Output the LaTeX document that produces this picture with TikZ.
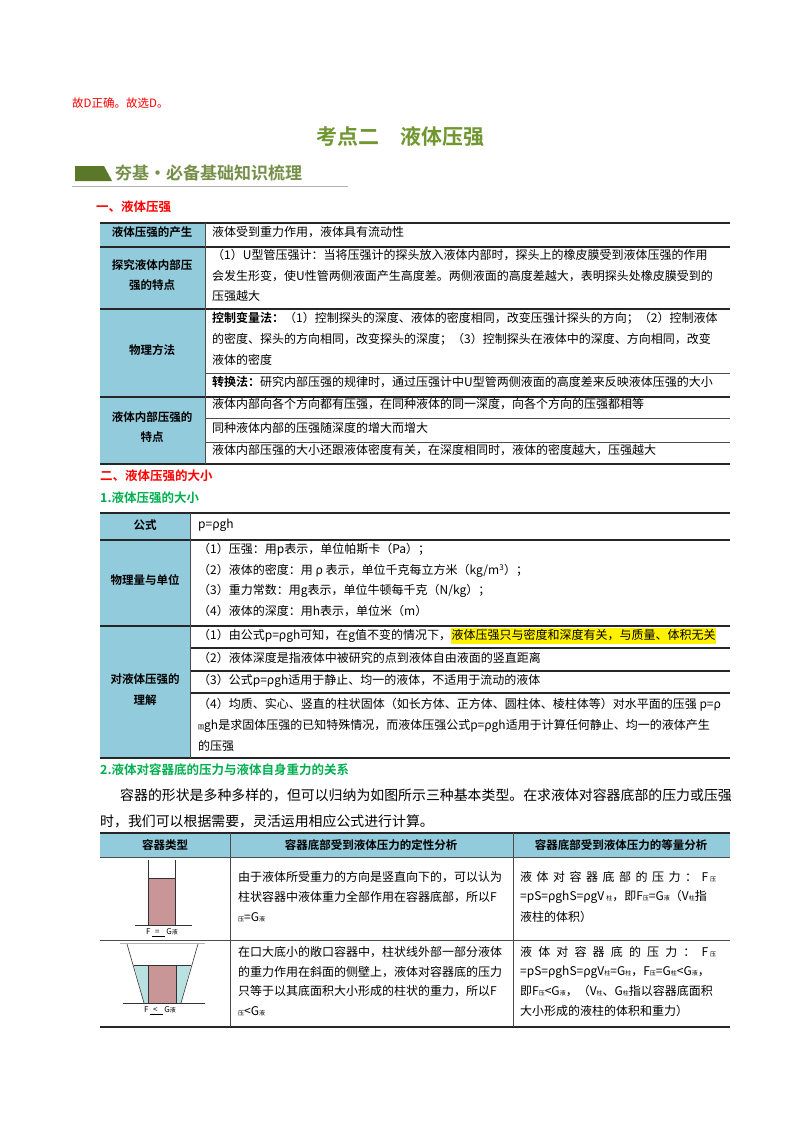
\documentclass[tikz,border=0pt]{standalone}
\usepackage{fontspec}
\setmainfont{Noto Sans CJK SC}
\newfontfamily\cjkb{Noto Sans CJK SC Bold}
\begin{document}
\begin{tikzpicture}[x=1pt,y=-1pt,
  tx/.style={anchor=west,inner sep=0pt,font=\fontsize{12}{13}\selectfont},
  lb/.style={anchor=center,inner sep=0pt,font=\fontsize{11.5}{12}\selectfont\cjkb},
  hd/.style={anchor=west,inner sep=0pt,font=\fontsize{12.5}{14}\selectfont\cjkb},
  thick line/.style={line width=1.3pt,black!85},
  thin line/.style={line width=0.5pt,black!70}]
\definecolor{cellblue}{RGB}{146,203,220}
\definecolor{tgreen}{RGB}{112,150,48}
\definecolor{sgreen}{RGB}{0,176,80}
\definecolor{pink}{RGB}{200,150,150}
\definecolor{lblue}{RGB}{185,225,225}
\newcommand{\lsub}[1]{{\fontsize{6}{6}\selectfont #1}}
\newcommand{\spr}[1]{\makebox[196pt][s]{#1}}
\useasboundingbox (0,0) rectangle (800,1132);
\fill[white] (0,0) rectangle (800,1132);
% header
\node[anchor=west,inner sep=0pt,text=red,font=\fontsize{11.5}{12}\selectfont] (t0) at (72,103) {故D正确。故选D。};
\node[inner sep=0pt,text=tgreen,font=\fontsize{21}{24}\selectfont\cjkb] (title) at (400,137) {考点二\quad 液体压强};
\fill[tgreen!80!black] (75,166) -- (104,166) -- (112,181) -- (75,181) -- cycle;
\node[anchor=west,inner sep=0pt,text=tgreen!70!gray,font=\fontsize{17}{19}\selectfont\cjkb] (banner) at (115,173) {夯基·必备基础知识梳理};
\draw[gray!60,line width=0.8pt] (72,186) -- (348,186);
\node[hd,text=red] (h1) at (96,207) {一、液体压强};
% ---------- table 1 ----------
\fill[cellblue] (100,223) rectangle (205,464);
\draw[thick line] (100,223) -- (730,223);
\draw[thick line] (100,247) -- (730,247);
\draw[thick line] (100,309) -- (730,309);
\draw[thin line] (205,373) -- (730,373);
\draw[thick line] (100,397) -- (730,397);
\draw[thin line] (205,418) -- (730,418);
\draw[thin line] (205,442) -- (730,442);
\draw[thick line] (100,464) -- (730,464);
\draw[thin line] (205,223) -- (205,464);
\node[lb] (a1) at (152,232) {液体压强的产生};
\node[lb] (a2) at (152,265) {探究液体内部压};
\node[lb] (a3) at (152,285) {强的特点};
\node[lb] (a4) at (152,350) {物理方法};
\node[lb] (a5) at (152,417) {液体内部压强的};
\node[lb] (a6) at (152,437) {特点};
\node[tx] (b1) at (212,232) {液体受到重力作用，液体具有流动性};
\node[tx] (b2) at (212,255) {（1）U型管压强计：当将压强计的探头放入液体内部时，探头上的橡皮膜受到液体压强的作用};
\node[tx] (b3) at (212,276) {会发生形变，使U性管两侧液面产生高度差。两侧液面的高度差越大，表明探头处橡皮膜受到的};
\node[tx] (b4) at (212,296) {压强越大};
\node[tx] (b5) at (212,318) {{\cjkb 控制变量法：}（1）控制探头的深度、液体的密度相同，改变压强计探头的方向；（2）控制液体};
\node[tx] (b6) at (212,339) {的密度、探头的方向相同，改变探头的深度；（3）控制探头在液体中的深度、方向相同，改变};
\node[tx] (b7) at (212,360) {液体的密度};
\node[tx] (b8) at (212,382) {{\cjkb 转换法：}研究内部压强的规律时，通过压强计中U型管两侧液面的高度差来反映液体压强的大小};
\node[tx] (b9) at (212,404) {液体内部向各个方向都有压强，在同种液体的同一深度，向各个方向的压强都相等};
\node[tx] (b10) at (212,428) {同种液体内部的压强随深度的增大而增大};
\node[tx] (b11) at (212,450) {液体内部压强的大小还跟液体密度有关，在深度相同时，液体的密度越大，压强越大};
% ---------- section 2 ----------
\node[hd,text=red] (h2) at (100,476) {二、液体压强的大小};
\node[hd,text=sgreen] (h3) at (100,498) {1.液体压强的大小};
\fill[cellblue] (100,513) rectangle (190,758);
\draw[thick line] (100,513) -- (730,513);
\draw[thick line] (100,540) -- (730,540);
\draw[thick line] (100,626) -- (730,626);
\draw[thick line] (190,648) -- (730,648);
\draw[thick line] (190,671) -- (730,671);
\draw[thick line] (190,693) -- (730,693);
\draw[thick line] (100,758) -- (730,758);
\draw[thin line] (190,513) -- (190,758);
\node[lb] (c1) at (145,525) {公式};
\node[lb] (c2) at (145,580) {物理量与单位};
\node[lb] (c3) at (145,679) {对液体压强的};
\node[lb] (c4) at (145,700) {理解};
\node[tx] (d1) at (198,525) {p=ρgh};
\node[tx] (d2) at (198,550) {（1）压强：用p表示，单位帕斯卡（Pa）；};
\node[tx] (d3) at (198,571) {（2）液体的密度：用 ρ 表示，单位千克每立方米（kg/m\textsuperscript{3}）；};
\node[tx] (d4) at (198,591) {（3）重力常数：用g表示，单位牛顿每千克（N/kg）；};
\node[tx] (d5) at (198,611) {（4）液体的深度：用h表示，单位米（m）};
\node[tx] (d6) at (198,636) {（1）由公式p=ρgh可知，在g值不变的情况下，\setlength{\fboxsep}{0.5pt}\colorbox{yellow}{\strut 液体压强只与密度和深度有关，与质量、体积无关}};
\node[tx] (d7) at (198,658) {（2）液体深度是指液体中被研究的点到液体自由液面的竖直距离};
\node[tx] (d8) at (198,681) {（3）公式p=ρgh适用于静止、均一的液体，不适用于流动的液体};
\node[tx] (d9) at (198,705) {（4）均质、实心、竖直的柱状固体（如长方体、正方体、圆柱体、棱柱体等）对水平面的压强 p=ρ};
\node[tx] (d10) at (198,726) {\lsub{固}gh是求固体压强的已知特殊情况，而液体压强公式p=ρgh适用于计算任何静止、均一的液体产生};
\node[tx] (d11) at (198,746) {的压强};
% ---------- section 2.2 ----------
\node[hd,text=sgreen] (h4) at (100,770) {2.液体对容器底的压力与液体自身重力的关系};
\node[tx,font=\fontsize{13.9}{15}\selectfont] (p1) at (120,795) {容器的形状是多种多样的，但可以归纳为如图所示三种基本类型。在求液体对容器底部的压力或压强};
\node[tx,font=\fontsize{13.9}{15}\selectfont] (p2) at (100,821) {时，我们可以根据需要，灵活运用相应公式进行计算。};
\fill[cellblue] (100,833) rectangle (730,857);
\draw[thick line] (100,833) -- (730,833);
\draw[thin line] (100,857) -- (730,857);
\draw[thin line] (100,940) -- (730,940);
\draw[thick line] (100,1027) -- (730,1027);
\draw[thin line] (230,833) -- (230,1027);
\draw[thin line] (513,833) -- (513,1027);
\node[lb] (e1) at (165,845) {容器类型};
\node[lb] (e2) at (371,845) {容器底部受到液体压力的定性分析};
\node[lb] (e3) at (621,845) {容器底部受到液体压力的等量分析};
\node[tx] (f1) at (238,877) {由于液体所受重力的方向是竖直向下的，可以认为};
\node[tx] (f2) at (238,897) {柱状容器中液体重力全部作用在容器底部，所以F};
\node[tx] (f3) at (238,917) {\lsub{压}=G\lsub{液}};
\node[tx] (g1) at (520,877) {\spr{液\hfil 体\hfil 对\hfil 容\hfil 器\hfil 底\hfil 部\hfil 的\hfil 压\hfil 力\hfil ：\hfil F\,\lsub{压}}};
\node[tx] (g2) at (520,897) {=pS=ρghS=ρgV\,\lsub{柱}，即F\lsub{压}=G\lsub{液}（V\lsub{柱}指};
\node[tx] (g3) at (520,917) {液柱的体积）};
\node[tx] (f4) at (238,952) {在口大底小的敞口容器中，柱状线外部一部分液体};
\node[tx] (f5) at (238,972) {的重力作用在斜面的侧壁上，液体对容器底的压力};
\node[tx] (f6) at (238,991) {只等于以其底面积大小形成的柱状的重力，所以F};
\node[tx] (f7) at (238,1011) {\lsub{压}<G\lsub{液}};
\node[tx] (g4) at (520,952) {\spr{液\hfil 体\hfil 对\hfil 容\hfil 器\hfil 底\hfil 的\hfil 压\hfil 力\hfil ：\hfil F\,\lsub{压}}};
\node[tx] (g5) at (520,972) {=pS=ρghS=ρgV\lsub{柱}=G\lsub{柱}，F\lsub{压}=G\lsub{柱}<G\lsub{液}，};
\node[tx] (g6) at (520,991) {即F\lsub{压}<G\lsub{液}，（V\lsub{柱}、G\lsub{柱}指以容器底面积};
\node[tx] (g7) at (520,1011) {大小形成的液柱的体积和重力）};
% figure 1
\fill[pink] (148,878) rectangle (175,925);
\draw[black!80,line width=0.6pt] (148,878) -- (175,878);
\draw[black!80,line width=0.6pt] (148,860) -- (148,925) (175,860) -- (175,925);
\draw[black!80,line width=0.6pt] (135,925) -- (192,925);
\node[inner sep=0pt,font=\fontsize{8}{8}\selectfont] (fig1) at (162,933) {F\,\underline{\ \,=\ \ \ }\,G\lsub{液}};
% figure 2
\fill[lblue] (134,965) -- (191,965) -- (181,1003) -- (144,1003) -- cycle;
\fill[pink] (148,965) rectangle (176,1003);
\draw[black!80,line width=0.5pt] (148,965) rectangle (176,1003);
\draw[black!80,line width=0.5pt] (134,965) -- (191,965);
\draw[black!80,line width=0.6pt] (127,944) -- (144,1003) (198,944) -- (181,1003);
\draw[gray!60,line width=0.6pt] (120,943) -- (205,943);
\draw[black!80,line width=0.6pt] (123,1003) -- (205,1003);
\node[inner sep=0pt,font=\fontsize{8}{8}\selectfont] (fig2) at (160,1011) {F\,\underline{\ \,<\ \ \ }\,G\lsub{液}};
\end{tikzpicture}
\end{document}
